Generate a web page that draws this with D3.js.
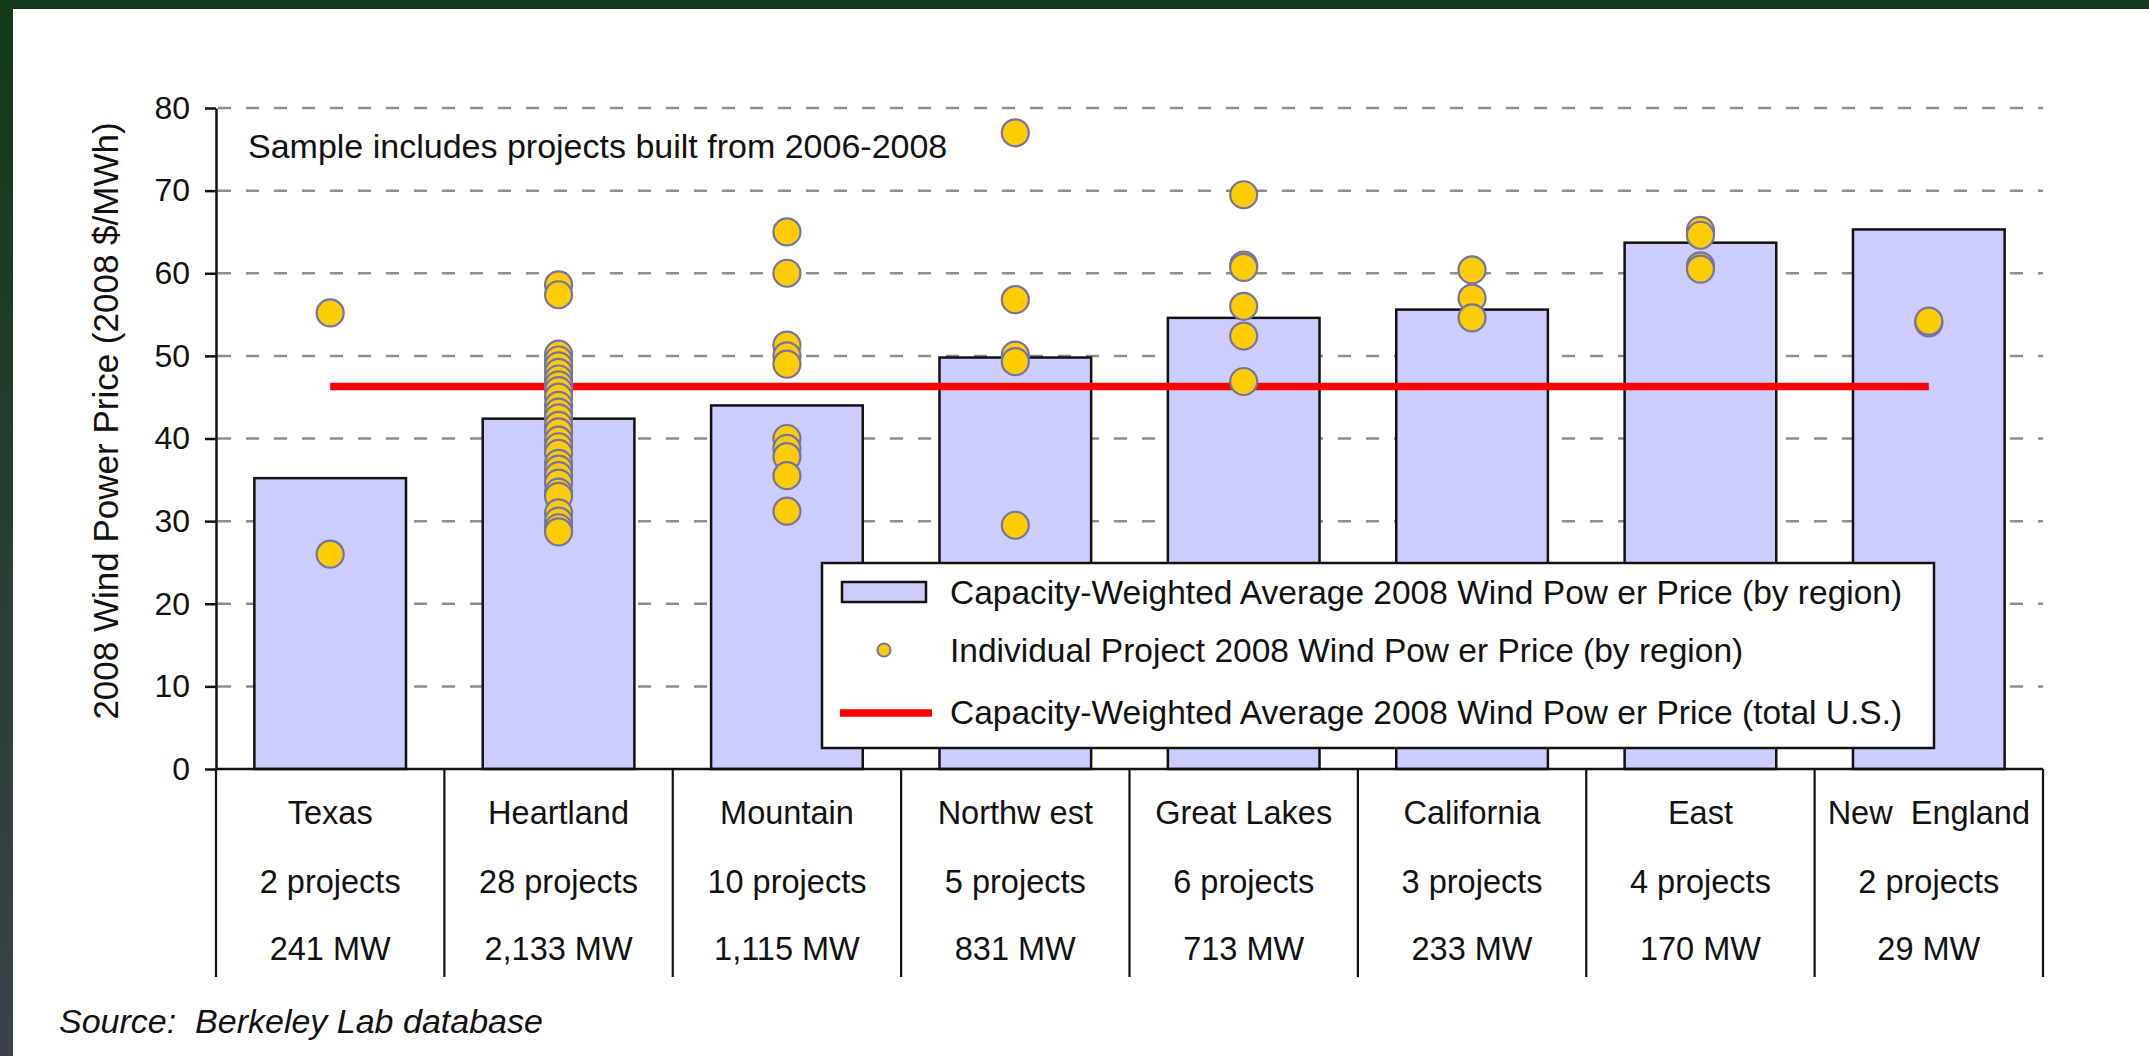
<!DOCTYPE html>
<html>
<head>
<meta charset="utf-8">
<script src="https://cdn.jsdelivr.net/npm/d3@7"></script>
<style>
  html, body { margin: 0; padding: 0; background: #ffffff; }
  svg { display: block; }
  text { font-family: "Liberation Sans", Arial, sans-serif; fill: #111; white-space: pre; }
</style>
</head>
<body>
<svg id="chart" width="2149" height="1056"></svg>
<script>
// ---------------- data ----------------
const categories = ["Texas", "Heartland", "Mountain", "Northw est", "Great Lakes", "California", "East", "New  England"];
const projectCounts = ["2 projects", "28 projects", "10 projects", "5 projects", "6 projects", "3 projects", "4 projects", "2 projects"];
const capacities = ["241 MW", "2,133 MW", "1,115 MW", "831 MW", "713 MW", "233 MW", "170 MW", "29 MW"];
const regionAverage = [35.2, 42.4, 44.0, 49.8, 54.6, 55.6, 63.7, 65.3];
const usAverage = 46.3;

const texasPrices = [55.2, 26.0];
const heartlandPrices = [58.6, 57.4, 50.2, 49.5, 48.8, 48.0, 47.2, 46.5, 45.8, 45.0, 44.0, 43.2, 42.5, 41.6,
                         40.8, 39.8, 39.0, 38.2, 37.0, 36.3, 35.5, 34.6, 33.5, 33.0, 31.0, 30.0, 29.2, 28.7];
const mountainPrices = [65.0, 60.0, 51.3, 50.0, 49.0, 40.0, 38.8, 37.8, 35.5, 31.2];
const northwestPrices = [77.0, 56.8, 50.1, 49.3, 29.5];
const greatLakesPrices = [69.5, 61.0, 60.7, 56.0, 52.4, 46.9];
const californiaPrices = [60.4, 57.0, 54.6];
const eastPrices = [65.2, 64.6, 60.9, 60.5];
const newEnglandPrices = [54.0, 54.2];

const yTicks = [0, 10, 20, 30, 40, 50, 60, 70, 80];
const yTitle = "2008 Wind Power Price (2008 $/MWh)";
const noteText = "Sample includes projects built from 2006-2008";
const sourceText = "Source:  Berkeley Lab database";
const legendLabels = [
  "Capacity-Weighted Average 2008 Wind Pow er Price (by region)",
  "Individual Project 2008 Wind Pow er Price (by region)",
  "Capacity-Weighted Average 2008 Wind Pow er Price (total U.S.)"
];

const projectPrices = [texasPrices, heartlandPrices, mountainPrices, northwestPrices,
                       greatLakesPrices, californiaPrices, eastPrices, newEnglandPrices];
const points = [];
projectPrices.forEach((arr, i) => arr.forEach(v => points.push({ cat: categories[i], value: v })));

// ---------------- layout ----------------
const W = 2149, H = 1056;
const plotLeft = 216, plotRight = 2043, plotTop = 108, plotBottom = 769;
const tableBottom = 977;

const svg = d3.select("#chart");

// background frame
const defs = svg.append("defs");
const grad = defs.append("linearGradient").attr("id", "leftGrad")
  .attr("x1", 0).attr("y1", 0).attr("x2", 0).attr("y2", 1);
grad.append("stop").attr("offset", "0%").attr("stop-color", "#123a18");
grad.append("stop").attr("offset", "100%").attr("stop-color", "#3a414a");
svg.append("rect").attr("x", 0).attr("y", 0).attr("width", W).attr("height", H).attr("fill", "#ffffff");
svg.append("rect").attr("x", 0).attr("y", 0).attr("width", 13).attr("height", H).attr("fill", "url(#leftGrad)");
svg.append("rect").attr("x", 0).attr("y", 0).attr("width", W).attr("height", 9).attr("fill", "#123a18");

const x = d3.scaleBand().domain(categories).range([plotLeft, plotRight]).paddingInner(0).paddingOuter(0);
const y = d3.scaleLinear().domain([0, 80]).range([plotBottom, plotTop]);
const barW = x.bandwidth() * 0.664;

// gridlines
svg.append("g").selectAll("line").data(yTicks.filter(d => d > 0)).join("line")
  .attr("x1", plotLeft + 2).attr("x2", plotRight)
  .attr("y1", d => y(d)).attr("y2", d => y(d))
  .attr("stroke", "#8c8c8c").attr("stroke-width", 2.5)
  .attr("stroke-dasharray", "13,15");

// bars
svg.append("g").selectAll("rect").data(categories).join("rect")
  .attr("x", d => x(d) + (x.bandwidth() - barW) / 2)
  .attr("width", barW)
  .attr("y", (d, i) => y(regionAverage[i]))
  .attr("height", (d, i) => y(0) - y(regionAverage[i]))
  .attr("fill", "#ccccff").attr("stroke", "#111").attr("stroke-width", 2.5);

// US average line (from first to last category centre)
svg.append("line")
  .attr("x1", x(categories[0]) + x.bandwidth() / 2)
  .attr("x2", x(categories[categories.length - 1]) + x.bandwidth() / 2)
  .attr("y1", y(usAverage)).attr("y2", y(usAverage))
  .attr("stroke", "#ff0000").attr("stroke-width", 7.5);

// project dots
svg.append("g").selectAll("circle").data(points).join("circle")
  .attr("cx", d => x(d.cat) + x.bandwidth() / 2)
  .attr("cy", d => y(d.value))
  .attr("r", 13.5)
  .attr("fill", "#ffcc00").attr("stroke", "#7373a6").attr("stroke-width", 2.2);

// y axis
const yAxis = d3.axisLeft(y).tickValues(yTicks).tickSize(11).tickSizeOuter(0).tickPadding(15);
const gy = svg.append("g").attr("transform", `translate(${plotLeft},0)`).call(yAxis);
gy.select(".domain").attr("stroke", "#111").attr("stroke-width", 2.5);
gy.selectAll(".tick line").attr("stroke", "#111").attr("stroke-width", 2.5);
gy.selectAll(".tick text").attr("font-size", 32).attr("fill", "#111")
  .style("font-family", '"Liberation Sans", Arial, sans-serif');

// x axis baseline + table
svg.append("line").attr("x1", plotLeft).attr("x2", plotRight)
  .attr("y1", plotBottom).attr("y2", plotBottom)
  .attr("stroke", "#111").attr("stroke-width", 2.5);
const edges = categories.map(c => x(c)).concat([x(categories[categories.length - 1]) + x.bandwidth()]);
svg.append("g").selectAll("line").data(edges).join("line")
  .attr("x1", d => d).attr("x2", d => d)
  .attr("y1", plotBottom).attr("y2", tableBottom)
  .attr("stroke", "#111").attr("stroke-width", 2.2);

const rows = [categories, projectCounts, capacities];
const rowBaselines = [824, 893, 960];
rows.forEach((row, r) => {
  svg.append("g").selectAll("text").data(row).join("text")
    .attr("x", (d, i) => x(categories[i]) + x.bandwidth() / 2)
    .attr("y", rowBaselines[r])
    .attr("text-anchor", "middle")
    .attr("font-size", 32.5)
    .text(d => d);
});

// y axis title
svg.append("text")
  .attr("transform", "translate(118,421) rotate(-90)")
  .attr("text-anchor", "middle")
  .attr("font-size", 35)
  .text(yTitle);

// note
svg.append("text").attr("x", 248).attr("y", 158).attr("font-size", 34).text(noteText);

// source
svg.append("text").attr("x", 59).attr("y", 1033).attr("font-size", 34)
  .attr("font-style", "italic").text(sourceText);

// legend
const lg = svg.append("g");
lg.append("rect").attr("x", 822).attr("y", 563).attr("width", 1112).attr("height", 185)
  .attr("fill", "#ffffff").attr("stroke", "#111").attr("stroke-width", 2.5);
lg.append("rect").attr("x", 842).attr("y", 582).attr("width", 84).attr("height", 20)
  .attr("fill", "#ccccff").attr("stroke", "#111").attr("stroke-width", 2.5);
lg.append("circle").attr("cx", 884).attr("cy", 650).attr("r", 6.5)
  .attr("fill", "#ffcc00").attr("stroke", "#7373a6").attr("stroke-width", 2);
lg.append("line").attr("x1", 840).attr("x2", 932).attr("y1", 713).attr("y2", 713)
  .attr("stroke", "#ff0000").attr("stroke-width", 7.5);
const legendY = [604, 662, 724];
lg.selectAll("text.leg").data(legendLabels).join("text").attr("class", "leg")
  .attr("x", 950).attr("y", (d, i) => legendY[i])
  .attr("font-size", 33.5).text(d => d);
</script>
</body>
</html>
